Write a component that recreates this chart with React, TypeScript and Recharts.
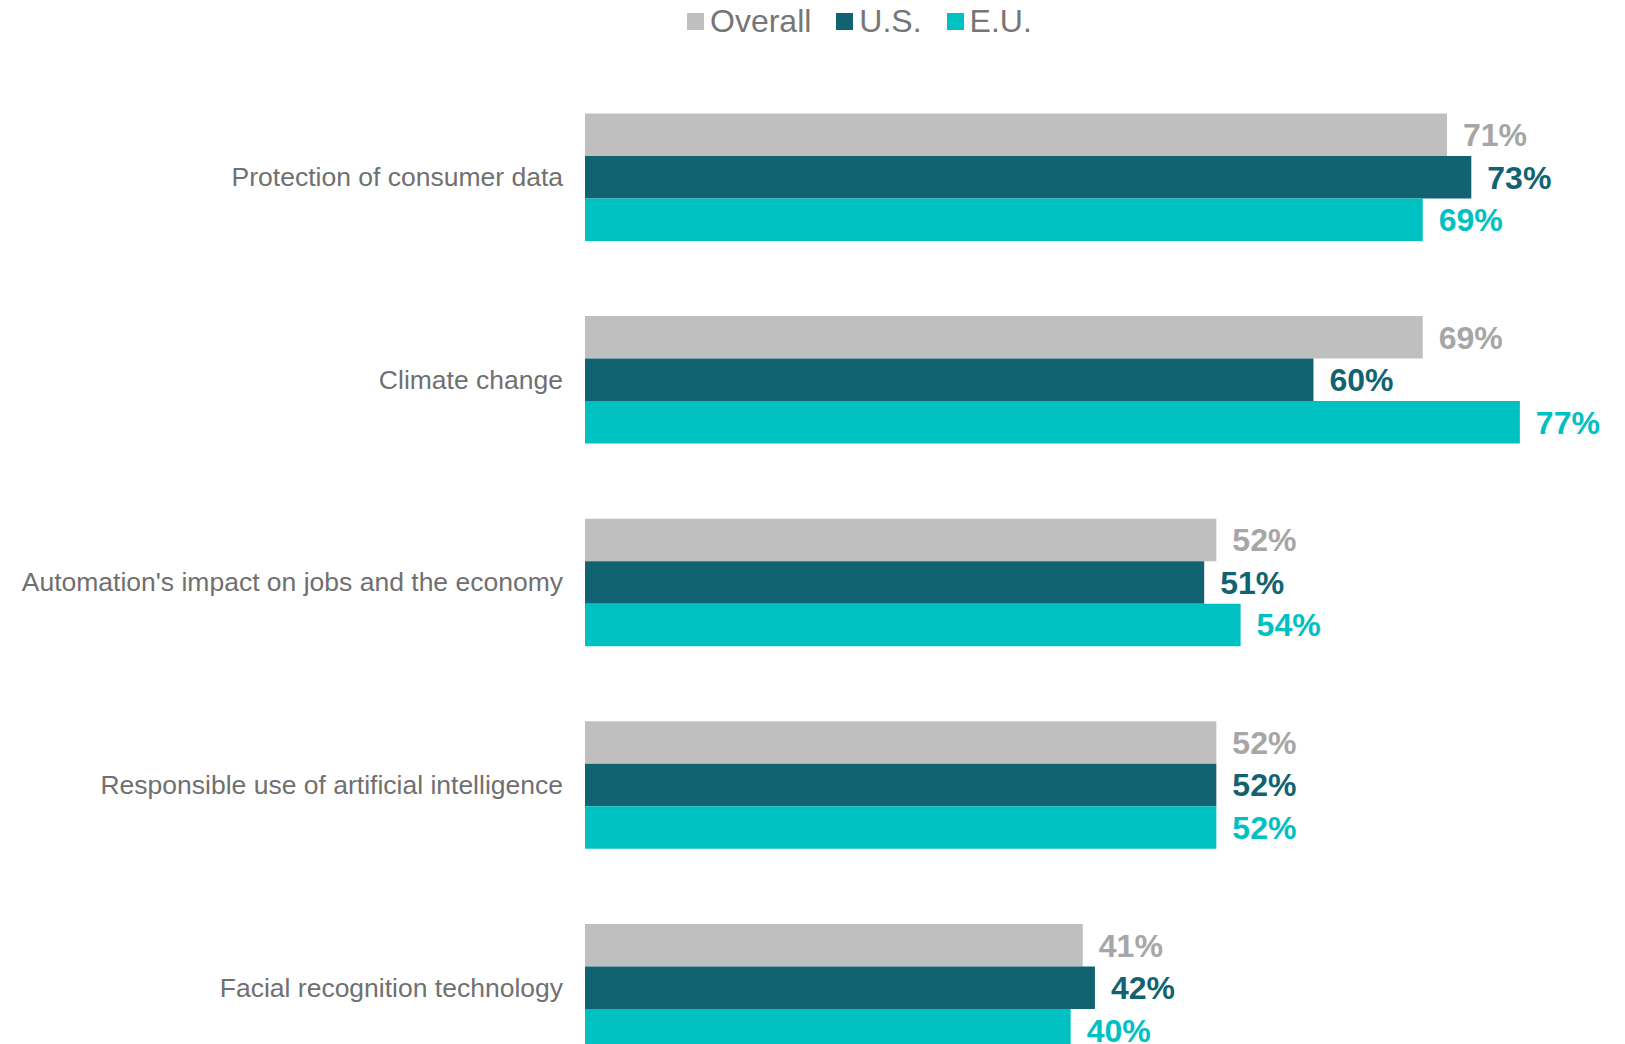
import { BarChart, Bar, XAxis, YAxis, Legend, LabelList } from 'recharts'

const categories = [
  'Protection of consumer data',
  'Climate change',
  "Automation's impact on jobs and the economy",
  'Responsible use of artificial intelligence',
  'Facial recognition technology',
]
const overall = [71, 69, 52, 52, 41]
const us = [73, 60, 51, 52, 42]
const eu = [69, 77, 54, 52, 40]

const FONT = '"Liberation Sans", Arial, sans-serif'

const series = [
  { key: 'overall', name: 'Overall', fill: '#BFBFBF', label: '#A6A6A6' },
  { key: 'us', name: 'U.S.', fill: '#126372', label: '#126372' },
  { key: 'eu', name: 'E.U.', fill: '#00C1C2', label: '#00C1C2' },
]

const data = categories.map((c, i) => ({ cat: c, overall: overall[i], us: us[i], eu: eu[i] }))

// zero-height wrapper so the legend doesn't push the plot down
function renderLegend() {
  return (
    <div style={{ height: 0, overflow: 'visible' }}>
      <div style={{ display: 'flex', alignItems: 'center', height: 42, fontFamily: FONT }}>
        {series.map((s, i) => (
          <div key={s.key} style={{ display: 'flex', alignItems: 'center', marginRight: i < 2 ? 25 : 0 }}>
            <div style={{ width: 17, height: 17, background: s.fill, marginRight: 6 }} />
            <span style={{ fontSize: 32, color: '#767676', lineHeight: '42px' }}>{s.name}</span>
          </div>
        ))}
      </div>
    </div>
  )
}

export default function App() {
  return (
    <div style={{ position: 'absolute', left: 0, top: 0, width: 1625, height: 1044, overflow: 'hidden', background: '#fff' }}>
      <BarChart
        width={1625}
        height={1100}
        data={data}
        layout="vertical"
        margin={{ top: 75.5, right: 8, bottom: 11.5, left: 0 }}
        barGap={0}
        barSize={42.5}
      >
        <XAxis type="number" domain={[0, 85]} hide />
        <YAxis
          type="category"
          dataKey="cat"
          width={585}
          axisLine={false}
          tickLine={false}
          tickSize={0}
          tickMargin={22}
          interval={0}
          tick={{ fill: '#707070', fontSize: 26.5, fontFamily: FONT }}
        />
        <Legend verticalAlign="top" content={renderLegend} wrapperStyle={{ top: 0, left: 687, width: 'auto' }} />
        {series.map(s => (
          <Bar key={s.key} dataKey={s.key} name={s.name} fill={s.fill} isAnimationActive={false}>
            <LabelList
              dataKey={s.key}
              position="right"
              offset={16}
              formatter={(v: number) => `${v}%`}
              style={{ fill: s.label, fontSize: 32, fontWeight: 'bold', fontFamily: FONT }}
            />
          </Bar>
        ))}
      </BarChart>
    </div>
  )
}
